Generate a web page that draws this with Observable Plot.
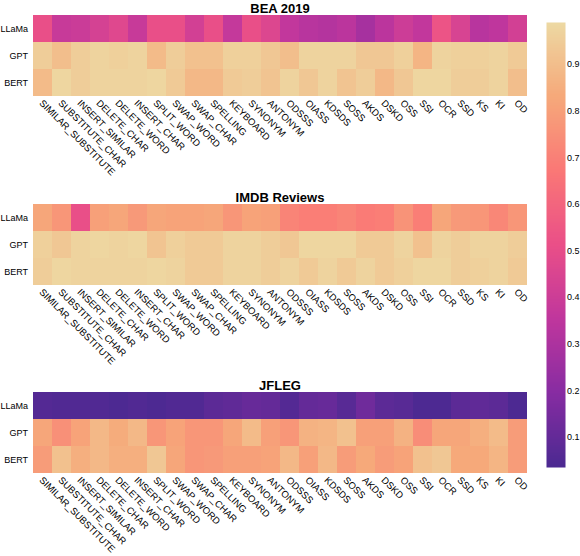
<!DOCTYPE html>
<html>
<head>
<meta charset="utf-8">
<script src="https://cdn.jsdelivr.net/npm/d3@7"></script>
<script src="https://cdn.jsdelivr.net/npm/@observablehq/plot@0.6"></script>
<style>
  html, body { margin: 0; padding: 0; background: #fff; }
  #wrap { position: relative; width: 580px; height: 556px; overflow: hidden; font-family: "Liberation Sans", Arial, sans-serif; }
  #wrap > svg, #wrap > figure { position: absolute; margin: 0; max-width: none; }
</style>
</head>
<body>
<div id="wrap"></div>
<script>
const cols = ["SIMILAR_SUBSTITUTE","SUBSTITUTE_CHAR","INSERT_SIMILAR","DELETE_CHAR","DELETE_WORD","INSERT_CHAR","SPLIT_WORD","SWAP_WORD","SWAP_CHAR","SPELLING","KEYBOARD","SYNONYM","ANTONYM","ODSSS","OIASS","KDSDS","SOSS","AKDS","DSKD","OSS","SSI","OCR","SSD","KS","KI","OD"];
const models = ["LLaMa","GPT","BERT"];
const titles = ["BEA 2019","IMDB Reviews","JFLEG"];

const beaLlama = [0.51,0.38,0.39,0.43,0.47,0.38,0.51,0.51,0.42,0.51,0.37,0.51,0.46,0.36,0.33,0.32,0.34,0.28,0.34,0.40,0.36,0.53,0.44,0.33,0.35,0.42];
const beaGpt   = [0.95,0.90,0.95,0.97,0.96,0.97,0.89,0.95,0.91,0.91,0.96,0.96,0.93,0.90,0.97,0.97,0.97,0.93,0.93,0.96,0.87,0.97,0.96,0.96,0.97,0.94];
const beaBert  = [0.89,0.98,0.95,0.97,0.97,0.97,0.98,0.94,0.88,0.88,0.94,0.95,0.92,0.97,0.93,0.97,0.92,0.95,0.88,0.93,0.98,0.98,0.95,0.95,0.97,0.90];

const imdbLlama = [0.82,0.77,0.51,0.80,0.82,0.78,0.82,0.81,0.81,0.82,0.77,0.81,0.80,0.71,0.69,0.69,0.71,0.68,0.69,0.76,0.69,0.82,0.78,0.77,0.72,0.77];
const imdbGpt   = [0.96,0.93,0.97,0.98,0.97,0.98,0.92,0.96,0.94,0.94,0.97,0.97,0.95,0.93,0.98,0.98,0.98,0.94,0.94,0.97,0.91,0.97,0.95,0.97,0.97,0.95];
const imdbBert  = [0.95,0.98,0.97,0.97,0.97,0.97,0.98,0.97,0.94,0.94,0.97,0.97,0.95,0.97,0.94,0.97,0.94,0.97,0.94,0.96,0.98,0.98,0.95,0.96,0.97,0.94];

const jflegLlama = [0.06,0.05,0.05,0.05,0.04,0.05,0.04,0.05,0.05,0.08,0.09,0.11,0.10,0.06,0.10,0.11,0.07,0.13,0.08,0.07,0.04,0.04,0.08,0.09,0.08,0.04];
const jflegGpt   = [0.82,0.75,0.81,0.88,0.84,0.88,0.77,0.81,0.77,0.77,0.82,0.89,0.80,0.77,0.86,0.87,0.91,0.80,0.80,0.86,0.74,0.82,0.82,0.85,0.89,0.79];
const jflegBert  = [0.79,0.91,0.85,0.88,0.85,0.85,0.93,0.82,0.77,0.78,0.80,0.80,0.81,0.88,0.80,0.88,0.79,0.83,0.79,0.81,0.91,0.93,0.83,0.83,0.87,0.79];

const colorTicks = [0.1,0.2,0.3,0.4,0.5,0.6,0.7,0.8,0.9];
const sunset = ["rgb(75,41,145)","rgb(135,44,162)","rgb(192,54,157)","rgb(234,79,136)","rgb(250,120,118)","rgb(246,169,122)","rgb(237,217,163)"];
const colorDomain = [0.035, 0.99];

const colorScale = () => ({type: "linear", domain: colorDomain, clamp: true, interpolate: d3.piecewise(d3.interpolateRgb, sunset)});
const font = "\"Liberation Sans\", Arial, sans-serif";
const wrap = document.getElementById("wrap");

function panel(title, rows, top, height) {
  const data = [];
  models.forEach((m, i) => cols.forEach((c, j) => data.push({model: m, col: c, value: rows[i][j]})));
  const svg = Plot.plot({
    width: 530, height,
    marginLeft: 29, marginRight: 0, marginTop: 15, marginBottom: height - 96,
    x: {domain: cols, padding: 0, label: null},
    y: {domain: models, padding: 0, label: null},
    color: colorScale(),
    style: {fontFamily: font, fontSize: "9px", background: "transparent", color: "#000", overflow: "visible"},
    marks: [
      Plot.cell(data, {x: "col", y: "model", fill: "value", inset: 0}),
      Plot.axisX({tickRotate: 45, tickSize: 0, tickPadding: 5, fontSize: 9.5, dx: -2}),
      Plot.axisY({tickSize: 0, tickPadding: 1.5, fontSize: 9}),
      Plot.text([title], {frameAnchor: "top", dy: -3, lineAnchor: "bottom", fontWeight: "bold", fontSize: 13})
    ]
  });
  svg.style.left = "0px";
  svg.style.top = top + "px";
  wrap.appendChild(svg);
}

panel(titles[0], [beaLlama, beaGpt, beaBert], 0, 189);
panel(titles[1], [imdbLlama, imdbGpt, imdbBert], 189, 188);
panel(titles[2], [jflegLlama, jflegGpt, jflegBert], 377, 179);

const bar = Plot.plot({
  width: 60, height: 556,
  marginLeft: 6, marginRight: 35, marginTop: 22, marginBottom: 89,
  x: {domain: [0, 1], axis: null},
  y: {domain: colorDomain, label: null, ticks: colorTicks, tickFormat: d3.format(".1f")},
  color: colorScale(),
  style: {fontFamily: font, fontSize: "9px", background: "transparent", color: "#000", overflow: "visible"},
  marks: [
    Plot.raster({x1: 0, x2: 1, y1: colorDomain[0], y2: colorDomain[1], width: 1, height: 300, fill: (x, y) => y, imageRendering: "auto"}),
    Plot.axisY({anchor: "right", ticks: colorTicks, tickFormat: d3.format(".1f"), tickSize: 0, tickPadding: 1.5, label: null, fontSize: 9})
  ]
});
bar.style.left = "540px";
bar.style.top = "0px";
wrap.appendChild(bar);
</script>
</body>
</html>
